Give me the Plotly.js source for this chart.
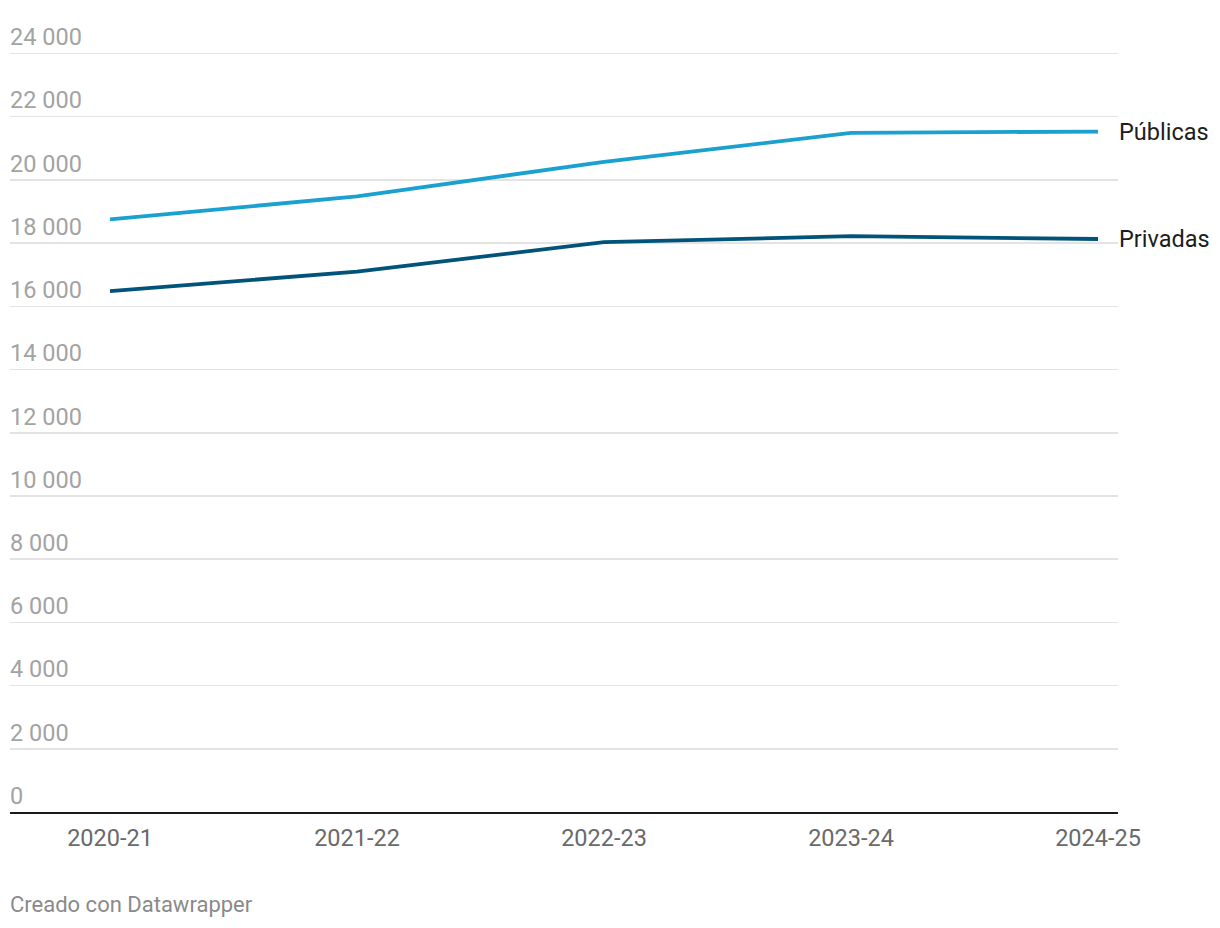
<!DOCTYPE html>
<html>
<head>
<meta charset="utf-8">
<script src="https://cdn.plot.ly/plotly-3.0.1.min.js"></script>
<style>
  html, body { margin: 0; padding: 0; background: #fff; }
  #chart { width: 1220px; height: 928px; }
</style>
</head>
<body>
<div id="chart"></div>
<script>
const categories = ["2020-21", "2021-22", "2022-23", "2023-24", "2024-25"];
const publicas = [18750, 19480, 20570, 21490, 21530];
const privadas = [16480, 17100, 18030, 18220, 18130];
const yTicks = [0, 2000, 4000, 6000, 8000, 10000, 12000, 14000, 16000, 18000, 20000, 22000, 24000];
const seriesNames = ["Públicas", "Privadas"];
const seriesColors = ["#1aa1cf", "#02537a"];

const xIdx = categories.map((_, i) => i);

const traces = [
  { x: xIdx, y: publicas, name: seriesNames[0], type: "scatter", mode: "lines",
    line: { color: seriesColors[0], width: 3.8 }, hoverinfo: "skip", cliponaxis: false },
  { x: xIdx, y: privadas, name: seriesNames[1], type: "scatter", mode: "lines",
    line: { color: seriesColors[1], width: 3.8 }, hoverinfo: "skip", cliponaxis: false }
];

const lastIdx = categories.length - 1;
const annotations = [
  { x: lastIdx, y: publicas[lastIdx], xref: "x", yref: "y", text: seriesNames[0],
    showarrow: false, xanchor: "left", yanchor: "middle", xshift: 19,
    font: { family: "Roboto", size: 23.5, color: "#1d1d1d" } },
  { x: lastIdx, y: privadas[lastIdx], xref: "x", yref: "y", text: seriesNames[1],
    showarrow: false, xanchor: "left", yanchor: "middle", xshift: 19,
    font: { family: "Roboto", size: 23.5, color: "#1d1d1d" } },
  { x: 0, y: 0, xref: "paper", yref: "paper", xanchor: "left", yanchor: "middle",
    text: "Creado con Datawrapper", showarrow: false, yshift: -92, xshift: -2,
    font: { family: "Roboto", size: 22, color: "#8a8a8a" } }
];

const layout = {
  width: 1220, height: 928,
  margin: { l: 10, r: 102, t: 20, b: 116 },
  paper_bgcolor: "#fff", plot_bgcolor: "#fff",
  showlegend: false,
  separators: ", ",
  font: { family: "Roboto", size: 23.5, color: "#666" },
  xaxis: {
    range: [-100/247, lastIdx + 20/247],
    tickmode: "array", tickvals: xIdx, ticktext: categories,
    showgrid: false, zeroline: false,
    showline: true, linecolor: "#1a1a1a", linewidth: 2,
    ticks: "outside", ticklen: 4, tickcolor: "rgba(0,0,0,0)",
    tickfont: { family: "Roboto", size: 23.5, color: "#6a6a6a" },
    fixedrange: true
  },
  yaxis: {
    range: [0, 25060],
    tickmode: "array", tickvals: yTicks,
    tickformat: ",d",
    ticklabelposition: "inside top",
    ticklabelstandoff: -3,
    showgrid: true, gridcolor: "#e3e3e3", gridwidth: 1.5,
    zeroline: false, showline: false, ticks: "",
    tickfont: { family: "Roboto", size: 23.5, color: "#a3a3a3" },
    fixedrange: true
  },
  annotations: annotations
};

Plotly.newPlot("chart", traces, layout, { displayModeBar: false, staticPlot: true });
</script>
</body>
</html>
